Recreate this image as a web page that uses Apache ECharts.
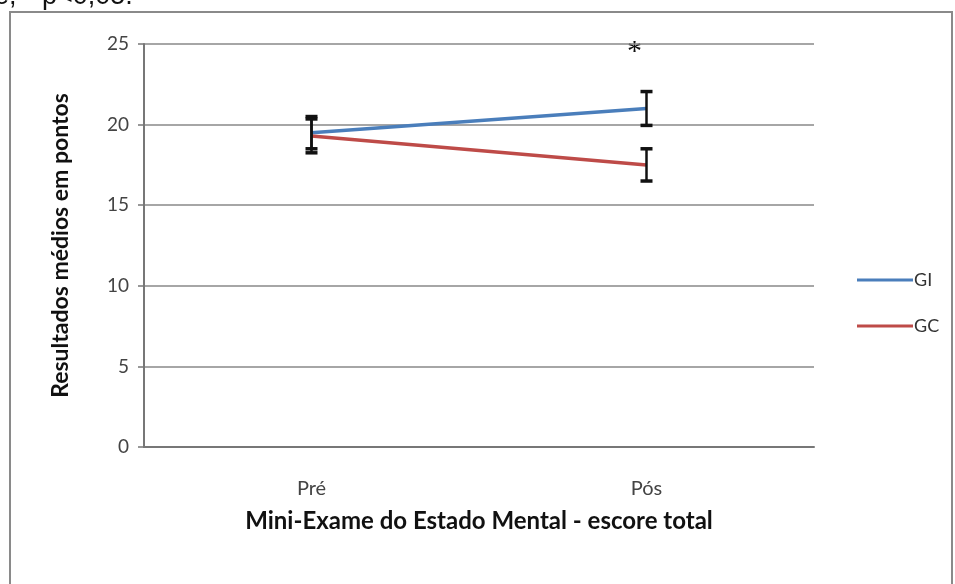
<!DOCTYPE html>
<html>
<head>
<meta charset="utf-8">
<script src="https://cdn.jsdelivr.net/npm/echarts@6/dist/echarts.min.js"></script>
<style>
  html, body { margin: 0; padding: 0; background: #ffffff; }
  #chart { width: 955px; height: 584px; }
</style>
</head>
<body>
<div id="chart"></div>
<script>
// Mini-Exame do Estado Mental: group means before/after, with error bars
const categories = ['Pré', 'Pós'];
const giMean = [19.5, 21.0];
const giErr = [1.0, 1.05];
const gcMean = [19.3, 17.5];
const gcErr = [1.05, 1.0];
const yTicks = [0, 5, 10, 15, 20, 25];

const chart = echarts.init(document.getElementById('chart'), null, { renderer: 'canvas' });

const axisFont = 'Lato, "Open Sans", sans-serif';

function errorSeries(name, means, errs) {
  return {
    name: name + ' erro',
    type: 'custom',
    z: 5,
    data: means.map((m, i) => [i, m - errs[i], m + errs[i]]),
    renderItem: function (params, api) {
      const x = api.value(0);
      const lo = api.coord([x, api.value(1)]);
      const hi = api.coord([x, api.value(2)]);
      const half = 6;
      const capStyle = { stroke: '#111111', lineWidth: 3.5 };
      return {
        type: 'group',
        children: [
          { type: 'line', shape: { x1: lo[0], y1: lo[1], x2: hi[0], y2: hi[1] }, style: { stroke: '#111111', lineWidth: 2.5 } },
          { type: 'line', shape: { x1: hi[0] - half, y1: hi[1], x2: hi[0] + half, y2: hi[1] }, style: capStyle },
          { type: 'line', shape: { x1: lo[0] - half, y1: lo[1], x2: lo[0] + half, y2: lo[1] }, style: capStyle }
        ]
      };
    }
  };
}

const option = {
  animation: false,
  backgroundColor: '#ffffff',
  grid: { left: 144, right: 141, top: 44, bottom: 137 },
  xAxis: {
    type: 'category',
    data: categories,
    boundaryGap: true,
    name: 'Mini-Exame do Estado Mental - escore total',
    nameLocation: 'middle',
    nameGap: 62,
    nameTextStyle: { fontFamily: axisFont, fontSize: 24, fontWeight: 'bold', color: '#111111' },
    axisLine: { show: true, lineStyle: { color: '#777777', width: 2 } },
    axisTick: { show: false },
    axisLabel: { fontFamily: axisFont, fontSize: 20, color: '#444444', margin: 32 }
  },
  yAxis: {
    type: 'value',
    min: 0,
    max: 25,
    interval: 5,
    name: 'Resultados médios em pontos',
    nameLocation: 'middle',
    nameGap: 72,
    nameTextStyle: { fontFamily: axisFont, fontSize: 23, fontWeight: 'bold', color: '#111111' },
    axisLine: { show: true, lineStyle: { color: '#777777', width: 2 } },
    axisTick: { show: true, length: 6, inside: false, lineStyle: { color: '#777777', width: 1.5 } },
    splitLine: { show: true, lineStyle: { color: '#888888', width: 1.5 } },
    axisLabel: {
      fontFamily: axisFont, fontSize: 19, color: '#444444', margin: 15,
      formatter: v => (yTicks.indexOf(v) >= 0 ? String(v) : '')
    }
  },
  legend: {
    orient: 'vertical',
    left: 852,
    top: 266,
    itemWidth: 56,
    itemHeight: 3,
    itemGap: 28,
    icon: 'rect',
    data: ['GI', 'GC'],
    textStyle: { fontFamily: axisFont, fontSize: 18, color: '#333333', padding: [0, 0, 0, -4] }
  },
  series: [
    {
      name: 'GI',
      type: 'line',
      data: giMean,
      symbol: 'none',
      lineStyle: { color: '#4a7ebb', width: 3.5 },
      itemStyle: { color: '#4a7ebb' },
      z: 3
    },
    {
      name: 'GC',
      type: 'line',
      data: gcMean,
      symbol: 'none',
      lineStyle: { color: '#be4b48', width: 3.5 },
      itemStyle: { color: '#be4b48' },
      z: 3
    },
    errorSeries('GI', giMean, giErr),
    errorSeries('GC', gcMean, gcErr)
  ],
  graphic: [
    {
      type: 'rect',
      shape: { x: 10, y: 12, width: 942, height: 600 },
      style: { fill: 'none', stroke: '#8a8a8a', lineWidth: 2 },
      silent: true
    },
    {
      type: 'text',
      left: 627,
      top: 37,
      style: { text: '*', font: '30px "Liberation Serif", serif', fill: '#111111' }
    },
    {
      type: 'text',
      x: -6,
      y: 10,
      style: { text: 'e,  *p<0,05.', font: '27px "Liberation Sans", Arial, sans-serif', fill: '#111111', textVerticalAlign: 'bottom' }
    }
  ]
};

chart.setOption(option);
</script>
</body>
</html>
